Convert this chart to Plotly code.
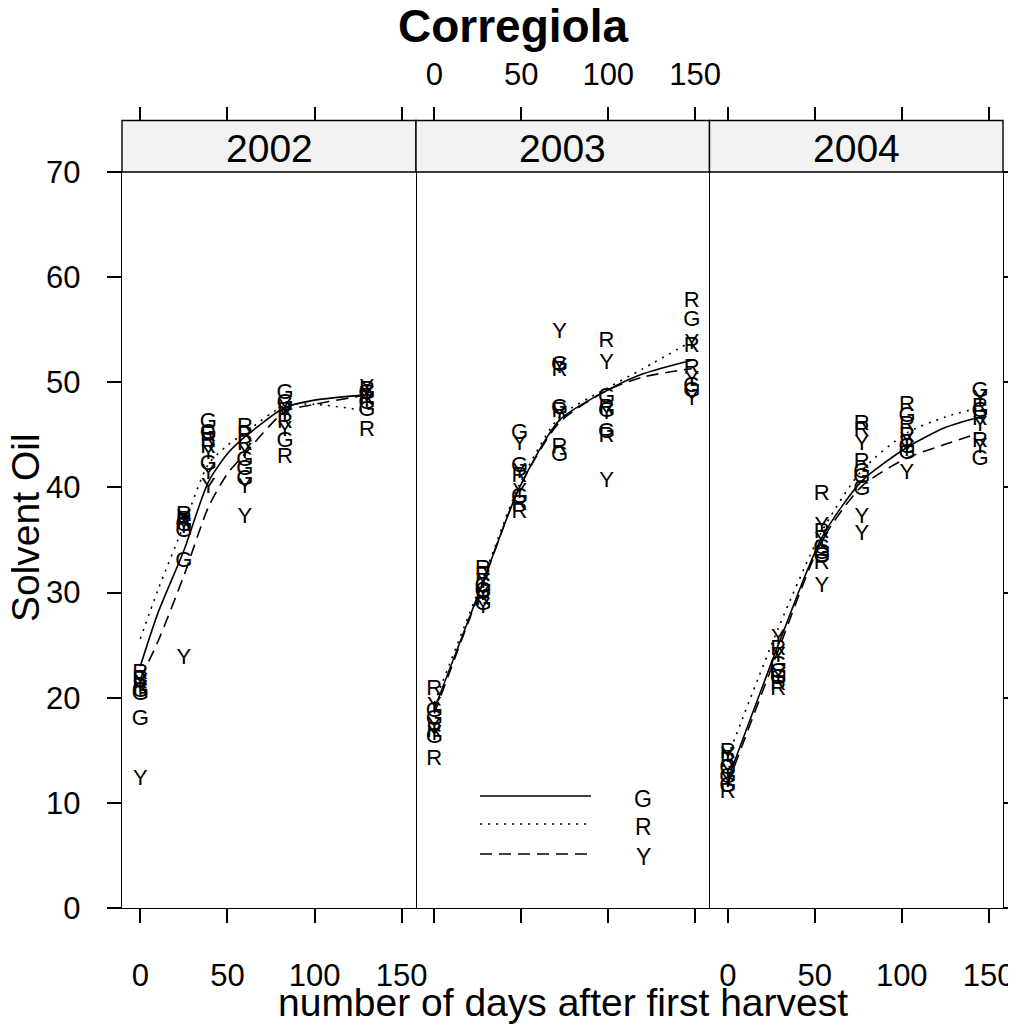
import plotly.graph_objects as go

W, H = 1016, 1026
FONT = "Liberation Sans, Arial, sans-serif"

years = ["2002", "2003", "2004"]
varieties = ["G", "R", "Y"]

# observation days (per year)
days = {
    "2002": [0, 25, 39, 60, 83, 130],
    "2003": [0, 28, 49, 72, 99, 148],
    "2004": [0, 29, 54, 77, 103, 145],
}

# observed solvent oil, 3 replicates per day, per variety
obs_2002_G = [[20.6, 20.3, 17.9], [36.4, 35.8, 33.0], [46.2, 45.1, 42.2], [42.6, 41.7, 40.8], [48.9, 48.0, 44.4], [48.9, 48.0, 47.3]]
obs_2002_R = [[22.3, 21.7, 21.0], [37.3, 36.9, 36.6], [44.9, 44.4, 43.8], [45.7, 44.9, 44.1], [47.2, 46.2, 42.8], [49.2, 48.4, 45.4]]
obs_2002_Y = [[21.4, 20.8, 12.2], [37.0, 36.2, 23.7], [43.2, 41.3, 40.0], [43.3, 40.0, 37.1], [47.6, 46.7, 45.4], [49.4, 48.7, 48.2]]

obs_2003_G = [[18.7, 17.9, 16.2], [30.6, 30.1, 28.9], [45.1, 42.0, 39.0], [51.6, 47.5, 43.0], [48.6, 47.2, 45.2], [55.9, 49.6, 49.1]]
obs_2003_R = [[20.8, 16.8, 14.1], [32.2, 31.6, 29.3], [41.0, 38.4, 37.6], [51.1, 47.2, 43.8], [53.9, 47.5, 44.8], [57.7, 53.4, 51.3]]
obs_2003_Y = [[19.2, 17.3, 16.5], [31.0, 29.8, 28.6], [44.1, 41.4, 39.5], [54.7, 51.4, 46.8], [51.8, 47.0, 40.6], [53.7, 50.2, 48.4]]

obs_2004_G = [[13.3, 12.4, 11.6], [23.1, 22.4, 21.8], [34.2, 33.7, 33.4], [41.4, 40.9, 39.8], [46.7, 43.8, 43.2], [49.1, 47.2, 42.7]]
obs_2004_R = [[14.8, 13.9, 11.0], [24.6, 21.3, 20.8], [39.3, 35.7, 32.8], [46.0, 45.4, 42.4], [47.8, 45.9, 44.8], [47.6, 46.5, 44.4]]
obs_2004_Y = [[14.4, 13.0, 12.0], [25.6, 23.9, 22.0], [36.3, 34.9, 30.6], [44.1, 37.1, 35.5], [44.4, 43.5, 41.3], [48.4, 45.9, 43.8]]

obs = {
    ("2002", "G"): obs_2002_G, ("2002", "R"): obs_2002_R, ("2002", "Y"): obs_2002_Y,
    ("2003", "G"): obs_2003_G, ("2003", "R"): obs_2003_R, ("2003", "Y"): obs_2003_Y,
    ("2004", "G"): obs_2004_G, ("2004", "R"): obs_2004_R, ("2004", "Y"): obs_2004_Y,
}

# smoothed curves
curve_days = {
    "2002": [0, 10, 25, 39, 50, 60, 83, 100, 130],
    "2003": [0, 28, 49, 72, 99, 120, 148],
    "2004": [0, 29, 54, 77, 103, 125, 145],
}
curve_2002_G = [23.0, 28.0, 34.0, 40.5, 43.2, 44.8, 47.6, 48.3, 48.8]
curve_2002_R = [25.6, 30.2, 36.4, 42.2, 44.0, 45.2, 47.8, 47.9, 47.3]
curve_2002_Y = [21.8, 25.3, 31.6, 38.1, 41.3, 43.2, 47.2, 47.9, 48.8]
curve_2003_G = [18.9, 31.0, 40.0, 46.4, 49.2, 50.8, 52.1]
curve_2003_R = [19.5, 31.3, 40.3, 46.7, 49.4, 51.3, 53.9]
curve_2003_Y = [18.5, 30.9, 40.0, 46.2, 49.2, 50.5, 51.3]
curve_2004_G = [12.2, 25.0, 35.2, 40.6, 43.8, 45.7, 46.7]
curve_2004_R = [14.4, 26.6, 35.8, 41.6, 45.2, 46.7, 47.6]
curve_2004_Y = [11.8, 24.5, 34.9, 40.1, 42.8, 44.1, 45.2]
curves = {
    ("2002", "G"): curve_2002_G, ("2002", "R"): curve_2002_R, ("2002", "Y"): curve_2002_Y,
    ("2003", "G"): curve_2003_G, ("2003", "R"): curve_2003_R, ("2003", "Y"): curve_2003_Y,
    ("2004", "G"): curve_2004_G, ("2004", "R"): curve_2004_R, ("2004", "Y"): curve_2004_Y,
}

x_ticks = [0, 50, 100, 150]
y_ticks = [0, 10, 20, 30, 40, 50, 60, 70]

# ---------------- layout geometry (window pixels -> paper) ----------------
# the page places the figure 8px from the window's top-left corner
OFF = 8

def px(x):
    return (x - OFF) / W

def py(y):
    return 1 - (y - OFF) / H

panel_x = [(122.0, 416.0), (416.0, 709.5), (709.5, 1003.0)]
panel_top, panel_bot, strip_top = 172.0, 908.0, 120.5
XR = [-10.5, 158.2]
YR = [0, 70]

dashes = {"G": "solid", "R": "2px,6px", "Y": "12px,7px"}

fig = go.Figure()

for i, yr in enumerate(years):
    xa_bottom = "x" if i == 0 else f"x{i+1}"
    xa_top = f"x{i+4}"
    ya = "y" if i == 0 else f"y{i+1}"
    for v in varieties:
        xs, ys = [], []
        for d, reps in zip(days[yr], obs[(yr, v)]):
            for r in reps:
                xs.append(d)
                ys.append(r)
        fig.add_trace(go.Scatter(
            x=xs, y=ys, mode="text", text=[v] * len(xs),
            textfont=dict(family=FONT, size=22, color="black"),
            textposition="middle center", xaxis=xa_bottom, yaxis=ya,
            hoverinfo="skip", showlegend=False))
    for v in varieties:
        fig.add_trace(go.Scatter(
            x=curve_days[yr], y=curves[(yr, v)], mode="lines",
            line=dict(color="black", width=1.6, dash=dashes[v], shape="spline", smoothing=0.7),
            xaxis=xa_top, yaxis=ya, hoverinfo="skip", showlegend=False))

axis_common = dict(showgrid=False, zeroline=False, ticks="outside", ticklen=14,
                   tickwidth=1.8, tickcolor="black", automargin=False,
                   tickfont=dict(family=FONT, size=31, color="black"))

layout_axes = {}
for i in range(3):
    dom = [px(panel_x[i][0]), px(panel_x[i][1])]
    key = "xaxis" if i == 0 else f"xaxis{i+1}"
    layout_axes[key] = dict(
        axis_common, domain=dom, range=XR, tickvals=x_ticks,
        anchor="y" if i == 0 else f"y{i+1}", side="bottom",
        showline=True, linecolor="black", linewidth=1.4, mirror=True,
        showticklabels=(i != 1), ticklabelstandoff=26)
    layout_axes[f"xaxis{i+4}"] = dict(
        axis_common, range=XR, tickvals=x_ticks,
        overlaying="x" if i == 0 else f"x{i+1}", anchor="free",
        position=py(strip_top), side="top", showline=False,
        showticklabels=(i == 1), ticklabelstandoff=9)
    ykey = "yaxis" if i == 0 else f"yaxis{i+1}"
    yd = dict(axis_common, domain=[py(panel_bot), py(panel_top)], range=YR,
              tickvals=y_ticks, anchor="x" if i == 0 else f"x{i+1}",
              showline=True, linecolor="black", linewidth=1.4, mirror=True)
    if i == 0:
        yd.update(side="left", showticklabels=True, ticklabelstandoff=20)
    elif i == 1:
        yd.update(ticks="", showticklabels=False, showline=False)
    else:
        yd.update(side="right", showticklabels=False)
    layout_axes[ykey] = yd

fig.update_layout(**layout_axes)

shapes = []
annotations = []
for i, yr in enumerate(years):
    x0, x1 = px(panel_x[i][0]), px(panel_x[i][1])
    shapes.append(dict(type="rect", xref="paper", yref="paper",
                       x0=x0, x1=x1, y0=py(panel_top), y1=py(strip_top),
                       fillcolor="#f2f2f2", line=dict(color="black", width=1.4)))
    annotations.append(dict(text=yr, xref="paper", yref="paper",
                            x=(x0 + x1) / 2, y=py((panel_top + strip_top) / 2 + 2),
                            xanchor="center", yanchor="middle", showarrow=False,
                            font=dict(family=FONT, size=39, color="black")))

# key (legend) inside the middle panel
key_rows = [("G", 796), ("R", 824), ("Y", 854)]
for v, yy in key_rows:
    shapes.append(dict(type="line", xref="paper", yref="paper",
                       x0=px(480), x1=px(591), y0=py(yy), y1=py(yy),
                       line=dict(color="black", width=1.6, dash=dashes[v])))
    annotations.append(dict(text=v, xref="paper", yref="paper", x=px(643), y=py(yy + 3),
                            xanchor="center", yanchor="middle", showarrow=False,
                            font=dict(family=FONT, size=23, color="black")))

annotations.append(dict(text="<b>Corregiola</b>", xref="paper", yref="paper",
                        x=px(513), y=py(26), xanchor="center", yanchor="middle",
                        showarrow=False, font=dict(family=FONT, size=46, color="black")))
annotations.append(dict(text="number of days after first harvest", xref="paper", yref="paper",
                        x=px(562.5), y=py(1002), xanchor="center", yanchor="middle",
                        showarrow=False, font=dict(family=FONT, size=39, color="black")))
annotations.append(dict(text="Solvent Oil", xref="paper", yref="paper",
                        x=px(25), y=py(528), xanchor="center", yanchor="middle",
                        textangle=-90, showarrow=False,
                        font=dict(family=FONT, size=39, color="black")))

fig.update_layout(
    width=W, height=H, margin=dict(l=0, r=0, t=0, b=0, autoexpand=False),
    paper_bgcolor="white", plot_bgcolor="white", template="none",
    shapes=shapes, annotations=annotations, showlegend=False,
    font=dict(family=FONT, color="black"),
)

fig.write_html("out.html")
